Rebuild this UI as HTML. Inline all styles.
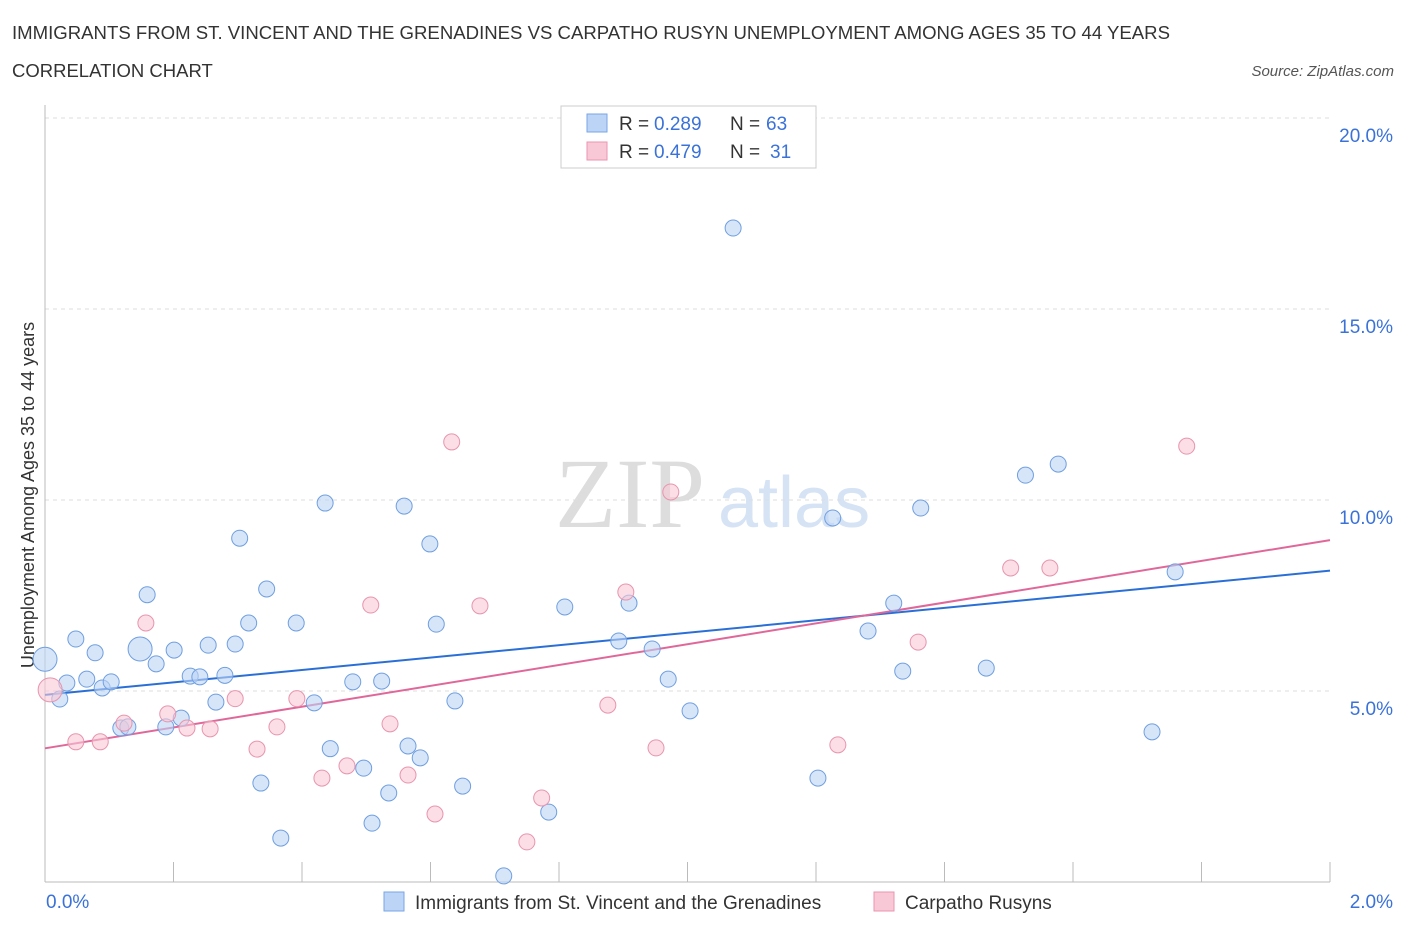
<!DOCTYPE html>
<html><head><meta charset="utf-8"><style>
body{margin:0;background:#fff;font-family:"Liberation Sans",sans-serif;}
</style></head><body>
<svg id="chart" width="1406" height="930" font-family="Liberation Sans, sans-serif">
<text x="12" y="39" font-size="18" fill="#333" textLength="1158" lengthAdjust="spacingAndGlyphs">IMMIGRANTS FROM ST. VINCENT AND THE GRENADINES VS CARPATHO RUSYN UNEMPLOYMENT AMONG AGES 35 TO 44 YEARS</text>
<text x="12" y="77" font-size="18.5" fill="#333">CORRELATION CHART</text>
<text x="1394" y="76" font-size="15" fill="#555" font-style="italic" text-anchor="end">Source: ZipAtlas.com</text>
<text x="555" y="527" font-size="100" fill="#ddd" font-family="Liberation Serif, serif">ZIP</text>
<text x="718" y="527" font-size="72" fill="#d5e3f5">atlas</text>
<text transform="translate(34,495) rotate(-90)" font-size="18" fill="#333" text-anchor="middle">Unemployment Among Ages 35 to 44 years</text>
<g id="grid"></g><g id="trend"></g><g id="pts"></g>
<g>
<rect x="561" y="106" width="255" height="62" fill="#fff" stroke="#ccc"/>
<rect x="587" y="114" width="20" height="18" fill="#bcd4f5" stroke="#7aa6e6"/>
<text x="619" y="130" font-size="19" fill="#333">R =</text>
<text x="654" y="130" font-size="19" fill="#3a72d8">0.289</text>
<text x="730" y="130" font-size="19" fill="#333">N =</text>
<text x="766" y="130" font-size="19" fill="#3a72d8">63</text>
<rect x="587" y="142" width="20" height="18" fill="#f8c8d6" stroke="#eb95b0"/>
<text x="619" y="158" font-size="19" fill="#333">R =</text>
<text x="654" y="158" font-size="19" fill="#3a72d8">0.479</text>
<text x="730" y="158" font-size="19" fill="#333">N =</text>
<text x="770" y="158" font-size="19" fill="#3a72d8">31</text>
</g>
<g>
<rect x="384" y="892" width="20" height="19" fill="#bcd4f5" stroke="#7aa6e6"/>
<text x="415" y="909" font-size="19" fill="#333">Immigrants from St. Vincent and the Grenadines</text>
<rect x="874" y="892" width="20" height="19" fill="#f8c8d6" stroke="#eb95b0"/>
<text x="905" y="909" font-size="19" fill="#333">Carpatho Rusyns</text>
</g>
</svg>
<script>
const yTicks=[5,10,15,20];
const yTickLabels=["5.0%","10.0%","15.0%","20.0%"];
const xTicks=[0,0.2,0.4,0.6,0.8,1.0,1.2,1.4,1.6,1.8,2.0];
const blueX=[0,0.023,0.034,0.048,0.065,0.078,0.089,0.103,0.118,0.129,0.148,0.159,0.173,0.188,0.201,0.212,0.226,0.241,0.254,0.266,0.280,0.296,0.303,0.317,0.336,0.345,0.367,0.391,0.419,0.436,0.444,0.479,0.496,0.509,0.524,0.535,0.559,0.565,0.584,0.599,0.609,0.638,0.650,0.714,0.784,0.809,0.893,0.909,0.945,0.970,1.004,1.071,1.203,1.226,1.281,1.321,1.335,1.363,1.465,1.526,1.577,1.723,1.759];
const blueY=[5.83,4.79,5.21,6.36,5.31,6.00,5.08,5.24,4.03,4.06,6.10,7.52,5.71,4.06,6.07,4.29,5.39,5.37,6.20,4.71,5.41,6.23,9.0,6.78,2.59,7.67,1.15,6.78,4.69,9.92,3.49,5.24,2.98,1.54,5.26,2.33,9.84,3.56,3.25,8.85,6.75,4.74,2.51,0.16,1.83,7.20,6.31,7.30,6.10,5.31,4.48,17.12,2.72,9.53,6.57,7.30,5.52,9.79,5.60,10.65,10.94,3.93,8.12];
const pinkX=[0.008,0.048,0.086,0.123,0.157,0.191,0.221,0.257,0.296,0.330,0.361,0.392,0.431,0.470,0.507,0.537,0.565,0.607,0.633,0.677,0.773,0.750,0.876,0.904,0.951,0.974,1.234,1.359,1.503,1.564,1.777];
const pinkY=[5.03,3.67,3.67,4.16,6.78,4.40,4.03,4.01,4.80,3.48,4.06,4.80,2.72,3.04,7.25,4.14,2.80,1.78,11.52,7.23,2.2,1.05,4.63,7.59,3.51,10.21,3.59,6.28,8.22,8.22,11.41];
const blueLine=[4.9,8.15], pinkLine=[3.5,8.95];
const X=v=>45+v/2*1285, Y=v=>882-v*38.2;
const ns="http://www.w3.org/2000/svg";
function mk(p,t,a){const e=document.createElementNS(ns,t);for(const k in a)e.setAttribute(k,a[k]);p.appendChild(e);return e;}
const g=document.getElementById('grid');
yTicks.forEach((t,i)=>{const l=mk(g,'line',{x1:45,x2:1330,y1:Y(t),y2:Y(t),stroke:'#ddd','stroke-dasharray':'4,4'});


const tx=mk(g,'text',{x:1393,y:Y(t)+24,'font-size':19,fill:'#3a72d8','text-anchor':'end'});tx.textContent=yTickLabels[i];

});
const ax=mk(g,'line',{x1:45,x2:1330,y1:882,y2:882,stroke:'#bbb'});


const ay=mk(g,'line',{x1:45,x2:45,y1:105,y2:882,stroke:'#bbb'});


xTicks.forEach(t=>{const l=mk(g,'line',{x1:X(t),x2:X(t),y1:862,y2:882,stroke:'#bbb'});

});
[["0.0%",X(0)+1,'start'],["2.0%",1393,'end']].forEach(d=>{const tx=mk(g,'text',{x:d[1],y:908,'font-size':19,fill:'#3a72d8','text-anchor':d[2]});tx.textContent=d[0];

});
const p=document.getElementById('pts');
function pts(xs,ys,fill,stroke,name){xs.forEach((x,i)=>{const big=(i==0||(name=='blue-point'&&i==10));const c=mk(p,'circle',{cx:X(x),cy:Y(ys[i]),r:big?12:8,fill:fill,stroke:stroke,'fill-opacity':0.6});

});}
pts(blueX,blueY,'#bcd4f5','#6f9fe0','blue-point');
pts(pinkX,pinkY,'#f8c8d6','#e895ae','pink-point');
const tr=document.getElementById('trend');
const bl=mk(tr,'line',{x1:X(0),y1:Y(blueLine[0]),x2:X(2),y2:Y(blueLine[1]),stroke:'#2a6fd6','stroke-width':2});


const pl=mk(tr,'line',{x1:X(0),y1:Y(pinkLine[0]),x2:X(2),y2:Y(pinkLine[1]),stroke:'#e0679a','stroke-width':2});


</script>
</body></html>
